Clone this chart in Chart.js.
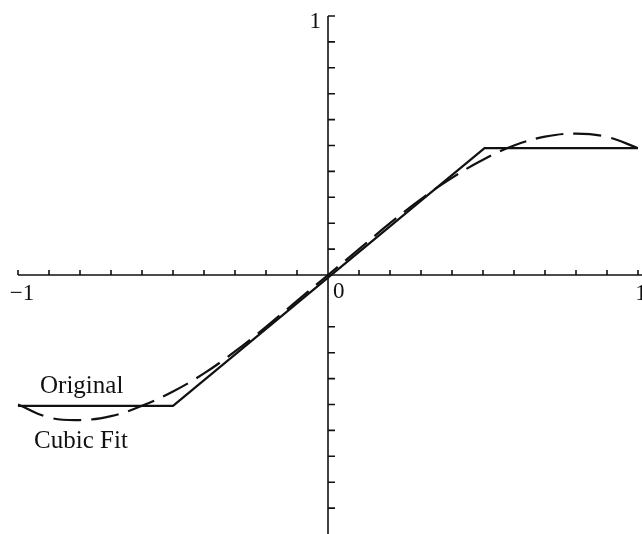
<!DOCTYPE html>
<html>
<head>
<meta charset="utf-8">
<script src="https://cdn.jsdelivr.net/npm/chart.js@4"></script>
<style>
  html, body { margin: 0; padding: 0; background: #fff; }
  #wrap { width: 642px; height: 534px; }
</style>
</head>
<body>
<div id="wrap"><canvas id="chart" width="642" height="534"></canvas></div>
<script>
// values
const fitX = [-1, -0.9, -0.8, -0.7, -0.6, -0.5, -0.4, -0.3, -0.2, -0.1, 0,
              0.1, 0.2, 0.3, 0.4, 0.5, 0.6, 0.7, 0.8, 0.9, 1];
const fitY = [-0.50, -0.55, -0.56, -0.545, -0.505, -0.45, -0.38, -0.295, -0.2, -0.1, 0,
              0.1, 0.2, 0.293, 0.375, 0.445, 0.5, 0.534, 0.546, 0.533, 0.49];
const originalX = [-1, -0.5, 0.505, 1];
const originalY = [-0.505, -0.505, 0.49, 0.49];

const xTicks = [-1, -0.9, -0.8, -0.7, -0.6, -0.5, -0.4, -0.3, -0.2, -0.1,
                0.1, 0.2, 0.3, 0.4, 0.5, 0.6, 0.7, 0.8, 0.9, 1];
const yTicks = [1, 0.9, 0.8, 0.7, 0.6, 0.5, 0.4, 0.3, 0.2, 0.1,
                -0.2, -0.3, -0.4, -0.5, -0.6, -0.7, -0.8, -0.9];
const xTickLabels = ['\u22121', '0', '1'];
const xTickLabelValues = [-1, 0, 1];
const yTickLabels = ['1'];
const yTickLabelValues = [1];

const curveLabels = ['Original', 'Cubic Fit'];
const curveLabelX = [-0.929, -0.948];
const curveLabelY = [-0.456, -0.668];

const ink = '#111';
const serif = "'Liberation Serif', 'DejaVu Serif', serif";

const toPoints = (xs, ys) => xs.map((x, i) => ({ x, y: ys[i] }));

// Mathematica-style axes crossing at the origin
const originAxes = {
    id: 'originAxes',
    beforeDatasetsDraw(chart) {
        const { ctx, scales: { x, y }, width, height } = chart;
        const x0 = x.getPixelForValue(0);
        const y0 = y.getPixelForValue(0);
        ctx.save();
        ctx.strokeStyle = ink;
        ctx.lineWidth = 1.6;
        ctx.beginPath();
        ctx.moveTo(x.getPixelForValue(-1), y0);
        ctx.lineTo(width, y0);
        ctx.moveTo(x0, y.getPixelForValue(1));
        ctx.lineTo(x0, height);
        xTicks.forEach(v => {
            const px = x.getPixelForValue(v);
            ctx.moveTo(px, y0);
            ctx.lineTo(px, y0 - 5);
        });
        yTicks.forEach(v => {
            const py = y.getPixelForValue(v);
            ctx.moveTo(x0, py);
            ctx.lineTo(x0 + 7, py);
        });
        ctx.stroke();

        ctx.fillStyle = ink;
        ctx.font = '23px ' + serif;
        ctx.textBaseline = 'alphabetic';
        xTickLabels.forEach((t, i) => {
            const v = xTickLabelValues[i];
            const px = x.getPixelForValue(v);
            if (v === 0) {
                ctx.textAlign = 'left';
                ctx.fillText(t, px + 5, y0 + 23);
            } else {
                ctx.textAlign = 'center';
                ctx.fillText(t, px + (v < 0 ? 4 : 3), y0 + 25);
            }
        });
        ctx.textAlign = 'right';
        yTickLabels.forEach((t, i) => {
            ctx.fillText(t, x0 - 7, y.getPixelForValue(yTickLabelValues[i]) + 12);
        });

        ctx.font = '25px ' + serif;
        ctx.textAlign = 'left';
        curveLabels.forEach((t, i) => {
            ctx.fillText(t, x.getPixelForValue(curveLabelX[i]), y.getPixelForValue(curveLabelY[i]));
        });
        ctx.restore();
    }
};

new Chart(document.getElementById('chart'), {
    type: 'scatter',
    data: {
        datasets: [
            {
                label: 'Original',
                data: toPoints(originalX, originalY),
                showLine: true,
                borderColor: ink,
                borderWidth: 2.2,
                pointRadius: 0,
                tension: 0,
                clip: false
            },
            {
                label: 'Cubic Fit',
                data: toPoints(fitX, fitY),
                showLine: true,
                borderColor: ink,
                borderWidth: 2.2,
                borderDash: [28, 10],
                pointRadius: 0,
                tension: 0.4,
                clip: false
            }
        ]
    },
    options: {
        responsive: false,
        animation: false,
        layout: { padding: { left: 18, right: 4, top: 16, bottom: 0 } },
        plugins: { legend: { display: false }, tooltip: { enabled: false } },
        scales: {
            x: { type: 'linear', min: -1, max: 1, display: false },
            y: { type: 'linear', min: -1, max: 1, display: false }
        }
    },
    plugins: [originAxes]
});
</script>
</body>
</html>
